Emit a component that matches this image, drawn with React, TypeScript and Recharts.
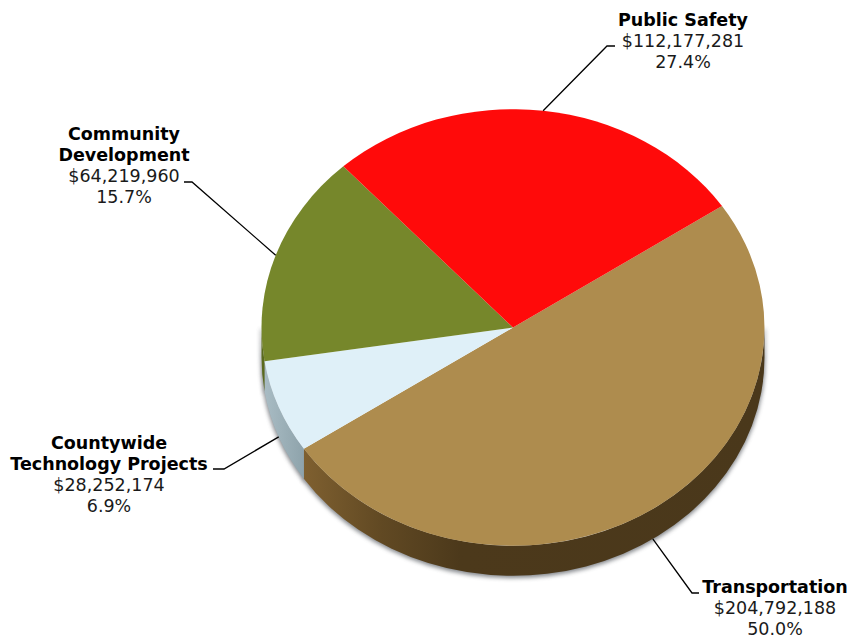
import { Pie, PieChart } from "recharts"

// Clockwise from the upper right edge of the disc
const categories = ["Transportation", "Countywide Technology Projects", "Community Development", "Public Safety"]
const amounts = [204792188, 28252174, 64219960, 112177281]
const faceColors = ["#ae8c4e", "#dff0f8", "#76872b", "#ff0a0a"]
const wallColors = ["url(#wallTan)", "url(#wallIce)", "#5a6a1e", "#a00808"]

const total = amounts.reduce((sum, v) => sum + v, 0)
const rows = categories.map((name, i) => ({ name, value: amounts[i], i }))

const WIDTH = 849
const HEIGHT = 639
const CX = 513
const CY = 327.5
const RX = 251.5
const SQUASH = 0.868 // disc is tilted, so it draws as an ellipse
const DEPTH = 30
const START = 33.8

const FONT = "'DejaVu Sans', Verdana, sans-serif"
const FONT_SIZE = 17.5
const LINE = 21

// Text block and leader elbow for each category
const labelLayout = [
  { lines: ["Transportation"], x: 775, y: 593, elbow: [692, 593], end: [699, 593] },
  { lines: ["Countywide", "Technology Projects"], x: 109, y: 449, elbow: [224, 469], end: [213, 469] },
  { lines: ["Community", "Development"], x: 124, y: 140, elbow: [192, 182], end: [184, 182] },
  { lines: ["Public Safety"], x: 683, y: 26, elbow: [607, 46], end: [615, 46] },
]

const pt = (deg: number, r: number, cx: number, cy: number) => {
  const a = (deg * Math.PI) / 180
  return [cx + r * Math.cos(a), cy - r * SQUASH * Math.sin(a)]
}

function topFace(props: any) {
  const { cx, cy, outerRadius: r, startAngle, endAngle, index } = props
  const [x1, y1] = pt(startAngle, r, cx, cy)
  const [x2, y2] = pt(endAngle, r, cx, cy)
  const large = Math.abs(startAngle - endAngle) > 180 ? 1 : 0
  return (
    <path
      d={`M${cx},${cy}L${x1},${y1}A${r},${r * SQUASH} 0 ${large} 1 ${x2},${y2}Z`}
      fill={faceColors[index]}
    />
  )
}

// Outer wall, only where the sector faces the viewer (lower half of the ellipse)
function wallPath(props: any) {
  const { cx, cy, outerRadius: r, startAngle, endAngle } = props
  const a1 = Math.min(startAngle, 0)
  const a2 = Math.max(endAngle, -180)
  if (a1 <= a2) return null
  const [x1, y1] = pt(a1, r, cx, cy)
  const [x2, y2] = pt(a2, r, cx, cy)
  const ry = r * SQUASH
  return `M${x1},${y1}A${r},${ry} 0 0 1 ${x2},${y2}L${x2},${y2 + DEPTH}A${r},${ry} 0 0 0 ${x1},${y1 + DEPTH}Z`
}

function wall(props: any) {
  const d = wallPath(props)
  return d ? <path d={d} fill={wallColors[props.index]} /> : <g />
}

function wallShadow(props: any) {
  const d = wallPath(props)
  return d ? (
    <path d={d} fill="#5c6066" opacity={0.75} transform="translate(0,1.5)" stroke="#5c6066" strokeWidth={1.5} style={{ filter: "blur(2px)" }} />
  ) : (
    <g />
  )
}

function sliceLabel(props: any) {
  const { cx, cy, outerRadius, midAngle, index } = props
  const layout = labelLayout[index]
  const [sx, sy0] = pt(midAngle, outerRadius, cx, cy)
  const sy = Math.sin((midAngle * Math.PI) / 180) < 0 ? sy0 + DEPTH : sy0
  const text = { textAnchor: "middle" as const, fontFamily: FONT, fontSize: FONT_SIZE, fill: "#1a1a1a" }
  const rowsBelow = [`$${amounts[index].toLocaleString("en-US")}`, `${((amounts[index] / total) * 100).toFixed(1)}%`]
  return (
    <g>
      <polyline
        points={`${sx},${sy} ${layout.elbow.join(",")} ${layout.end.join(",")}`}
        fill="none"
        stroke="#000"
        strokeWidth={1.3}
      />
      {layout.lines.map((l, n) => (
        <text key={l} {...text} x={layout.x} y={layout.y + n * LINE} fontWeight="bold" fill="#000">
          {l}
        </text>
      ))}
      {rowsBelow.map((l, n) => (
        <text key={l} {...text} x={layout.x} y={layout.y + (layout.lines.length + n) * LINE}>
          {l}
        </text>
      ))}
    </g>
  )
}

export default function App() {
  const pieProps = {
    data: rows,
    dataKey: "value",
    nameKey: "name",
    cx: CX,
    cy: CY,
    innerRadius: 0,
    outerRadius: RX,
    startAngle: START,
    endAngle: START - 360,
    paddingAngle: 0,
    stroke: "none",
    isAnimationActive: false,
  }
  return (
    <div style={{ position: "absolute", left: 0, top: 0, width: WIDTH, height: HEIGHT, background: "#fff" }}>
      <PieChart width={WIDTH} height={HEIGHT} margin={{ top: 0, right: 0, bottom: 0, left: 0 }}>
        <defs>
          <linearGradient id="wallTan" gradientUnits="userSpaceOnUse" x1="303" y1="0" x2="765" y2="0">
            <stop offset="0" stopColor="#7f6030" />
            <stop offset="0.17" stopColor="#614923" />
            <stop offset="0.34" stopColor="#4c391b" />
            <stop offset="1" stopColor="#4a381b" />
          </linearGradient>
          <linearGradient id="wallIce" gradientUnits="userSpaceOnUse" x1="264" y1="0" x2="304" y2="0">
            <stop offset="0" stopColor="#a9bcc4" />
            <stop offset="1" stopColor="#8ea3ab" />
          </linearGradient>
        </defs>
        <Pie {...pieProps} shape={wallShadow} />
        <Pie {...pieProps} shape={wall} />
        <Pie {...pieProps} shape={topFace} label={sliceLabel} labelLine={false} />
      </PieChart>
    </div>
  )
}
